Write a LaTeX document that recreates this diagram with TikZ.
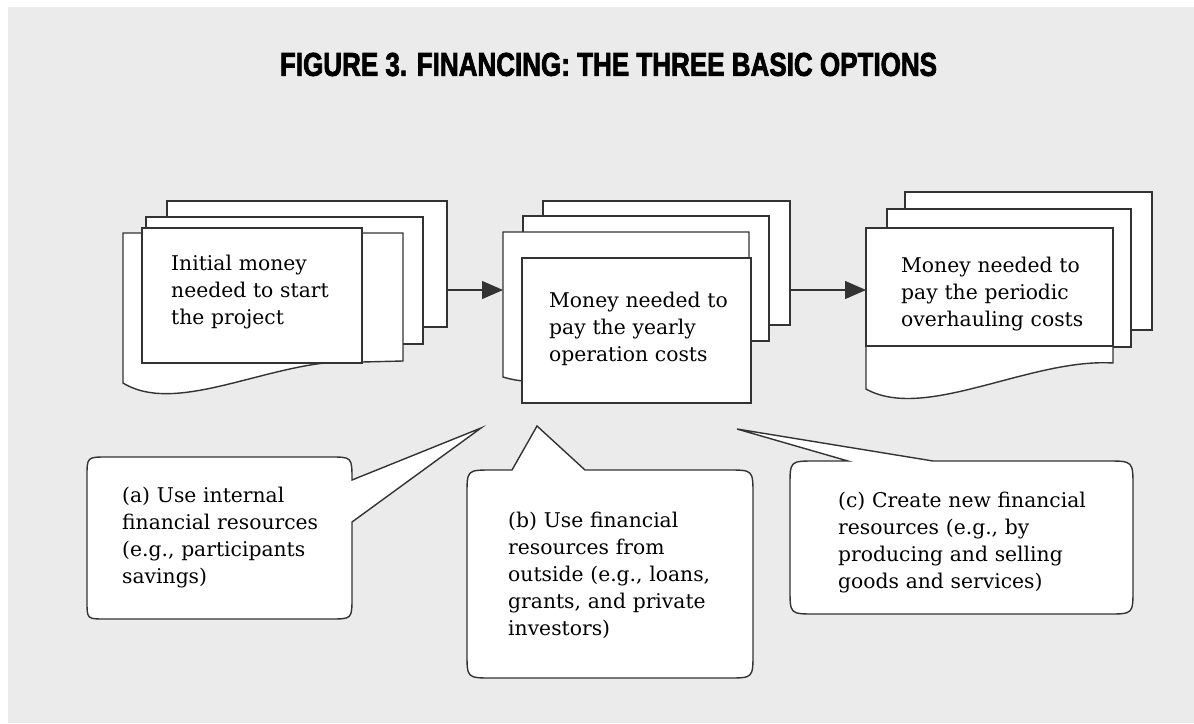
\documentclass[tikz,border=0pt]{standalone}
\usepackage{fontspec}
\setmainfont{DejaVu Serif}
\newfontfamily\titlefont[UprightFont={* Bold}, FakeBold=2.5]{Liberation Sans}
\usetikzlibrary{arrows.meta}
\definecolor{panel}{HTML}{EBEBEB}
\definecolor{ink}{HTML}{333333}
\tikzset{
  sheet/.style={draw=ink, fill=white, line width=1.4pt, line join=miter},
  bubble/.style={draw=ink, fill=white, line width=1.4pt, line join=miter},
  txt/.style={font=\fontsize{20.3pt}{27pt}\selectfont, text=black, align=left,
              inner sep=0pt, text width=280pt, anchor=base west},
  flow/.style={draw=ink, line width=1.3pt, -{Triangle[length=21pt,width=18pt]}},
}
\begin{document}
\begin{tikzpicture}[x=1pt,y=-1pt]
\useasboundingbox (0,0) rectangle (1194,723);
\fill[white] (0,0) rectangle (1194,723);
\fill[panel] (8,7) rectangle (1194,723);

% title
\node[inner sep=0pt] (title) at (608.5,64.5)
  {\resizebox{657pt}{23pt}{\titlefont FIGURE 3. FINANCING: THE THREE BASIC OPTIONS}};

% ---- first stack: start-up money
\filldraw[sheet] (167,201) rectangle (447,327);
\filldraw[sheet] (146,217) rectangle (423,344);
\filldraw[sheet] (123,233) -- (403,233) -- (403,361) -- (362,362)
  .. controls (280,355) and (180,418) .. (123,383) -- cycle;
\node[sheet, minimum width=220pt, minimum height=135pt, inner sep=0pt] (start) at (252,295.5) {};
\node[txt] (starttxt) at (171,270) {Initial money\\needed to start\\the project};

% ---- second stack: yearly operation
\filldraw[sheet] (543,201) rectangle (790,325);
\filldraw[sheet] (523,216) rectangle (769,341);
\filldraw[sheet] (503,232) -- (749,232) -- (749,365)
  .. controls (680,360) and (560,395) .. (503,377) -- cycle;
\node[sheet, minimum width=229pt, minimum height=145pt, inner sep=0pt] (yearly) at (636.5,330.5) {};
\node[txt] (yearlytxt) at (549,307) {Money needed to\\pay the yearly\\operation costs};

% ---- third stack: periodic overhauling
\filldraw[sheet] (905,192) rectangle (1152,330);
\filldraw[sheet] (887,209) rectangle (1131,347);
\filldraw[sheet] (866,230) -- (1113,230) -- (1113,363)
  .. controls (1030,358) and (925,422) .. (866,389) -- cycle;
\node[sheet, minimum width=247pt, minimum height=118pt, inner sep=0pt] (overhaul) at (989.5,287) {};
\node[txt] (overhaultxt) at (901,272) {Money needed to\\pay the periodic\\overhauling costs};

% ---- flow between the stacks
\coordinate (startout) at (447,290);
\coordinate (yearlyin) at (503,290);
\coordinate (yearlyout) at (790,290);
\coordinate (overhaulin) at (866,290);
\draw[flow] (startout) -- (yearlyin);
\draw[flow] (yearlyout) -- (overhaulin);

% ---- option (a)
\filldraw[bubble] (107,457) -- (330,457) .. controls (352,457) .. (352,480)
  -- (481,428) -- (352,522) -- (352,597) .. controls (352,619) .. (330,619)
  -- (105,619) .. controls (87,619) .. (87,601) -- (87,477)
  .. controls (87,457) .. (107,457) -- cycle;
\node[txt] (opta) at (122,502) {(a) Use internal\\financial resources\\(e.g., participants\\savings)};

% ---- option (b)
\filldraw[bubble] (492,470) -- (512,470) -- (537,426) -- (585,470) -- (728,470)
  .. controls (753,470) .. (753,495) -- (753,653) .. controls (753,678) .. (728,678)
  -- (492,678) .. controls (467,678) .. (467,653) -- (467,495)
  .. controls (467,470) .. (492,470) -- cycle;
\node[txt] (optb) at (508,527) {(b) Use financial\\resources from\\outside (e.g., loans,\\grants, and private\\investors)};

% ---- option (c)
\filldraw[bubble] (815,461) -- (848,461) -- (737,429) -- (933,461) -- (1107,461)
  .. controls (1133,461) .. (1133,487) -- (1133,589) .. controls (1133,614) .. (1108,614)
  -- (815,614) .. controls (790,614) .. (790,589) -- (790,486)
  .. controls (790,461) .. (815,461) -- cycle;
\node[txt] (optc) at (838,507) {(c) Create new financial\\resources (e.g., by\\producing and selling\\goods and services)};
\end{tikzpicture}
\end{document}
